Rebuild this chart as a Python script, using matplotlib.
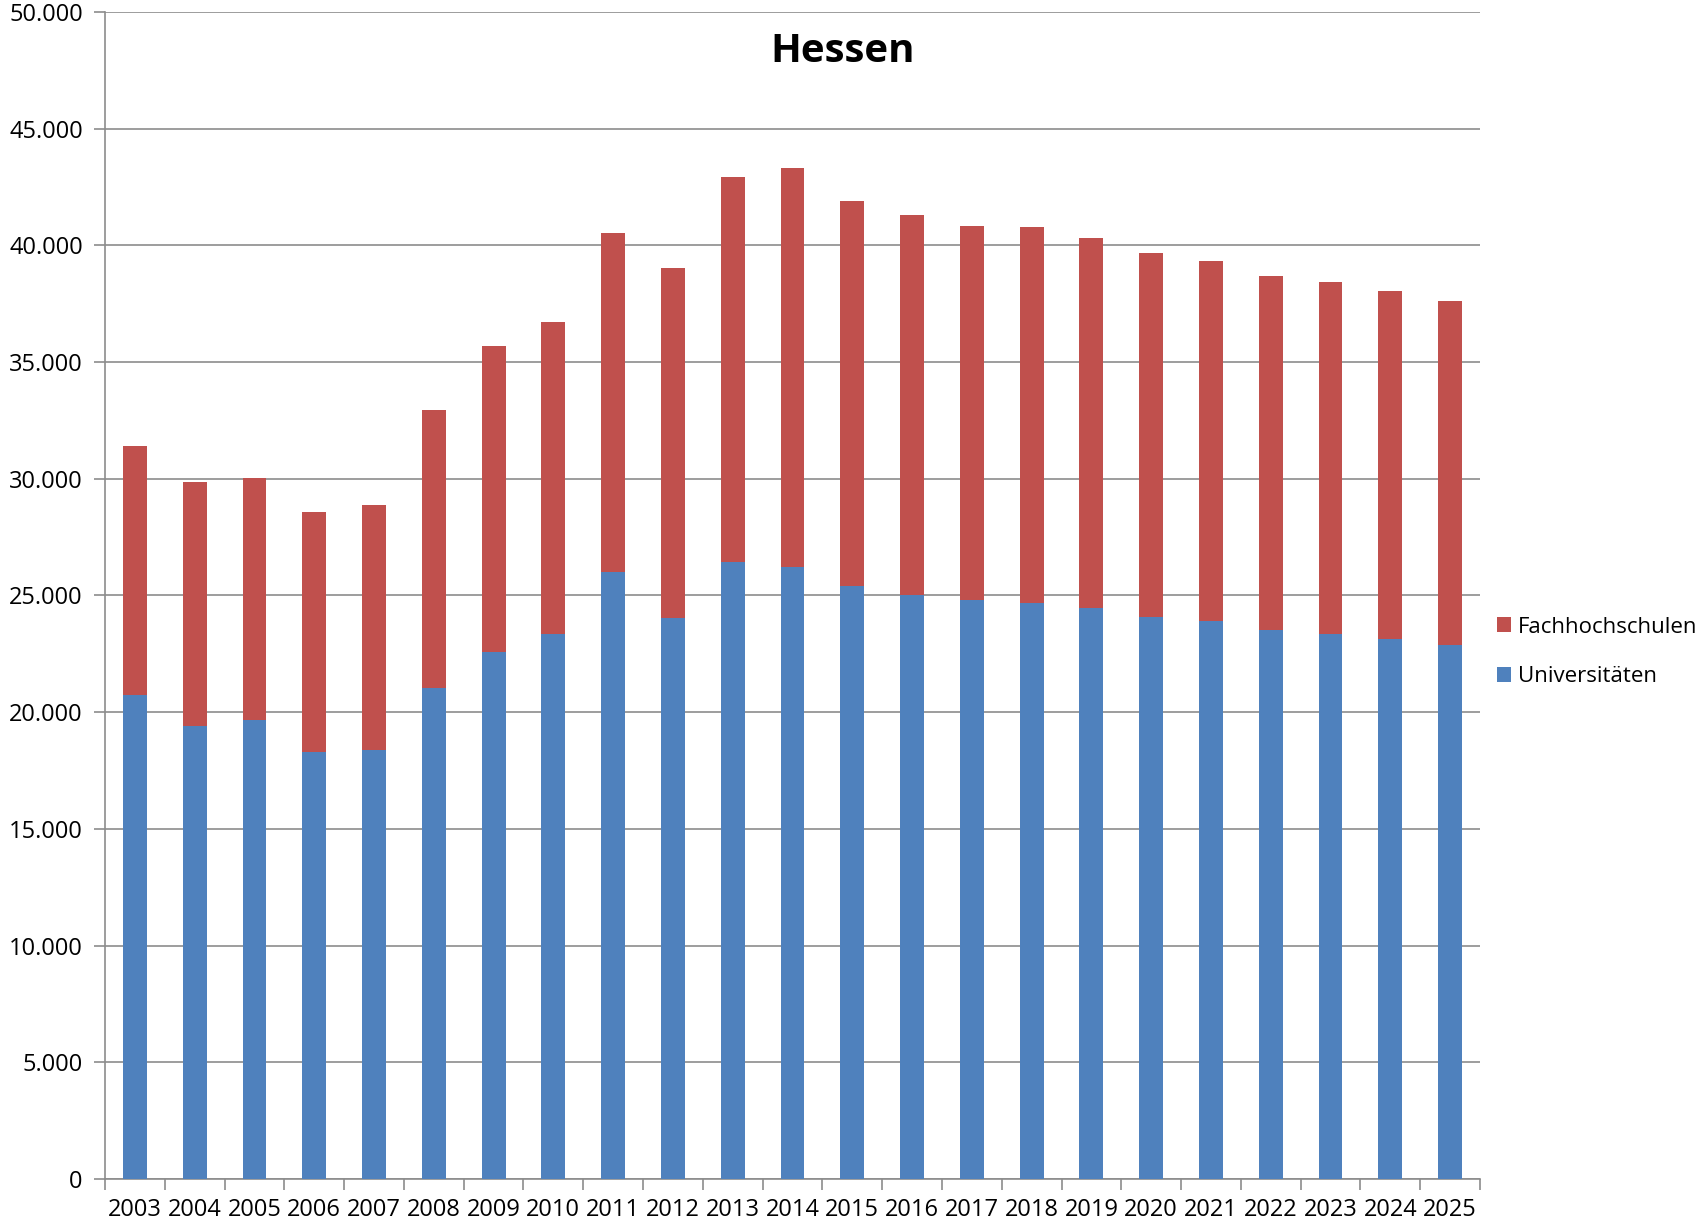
import matplotlib.pyplot as plt
import numpy as np

plt.rcParams['font.family'] = ['Open Sans', 'DejaVu Sans']

# Data
years = [str(y) for y in range(2003, 2026)]
universitaeten = [20750, 19400, 19680, 18280, 18370, 21020, 22600, 23350, 26000, 24050,
                  26420, 26230, 25400, 25020, 24790, 24700, 24470, 24100, 23900, 23540,
                  23350, 23120, 22880]
gesamt = [31400, 29860, 30050, 28560, 28880, 32930, 35680, 36700, 40520, 39020,
          42930, 43300, 41910, 41310, 40840, 40790, 40330, 39680, 39350, 38700,
          38420, 38050, 37630]
fachhochschulen = [g - u for g, u in zip(gesamt, universitaeten)]

fig = plt.figure(figsize=(17.02, 12.24), dpi=100)
ax = fig.add_axes([105 / 1702, 1 - 1179 / 1224, 1375 / 1702, 1167 / 1224])

x = np.arange(len(years))
bar_u = ax.bar(x, universitaeten, width=0.4, color='#4F81BD', zorder=3)
bar_f = ax.bar(x, fachhochschulen, width=0.4, bottom=universitaeten, color='#C0504D', zorder=3)

ax.set_ylim(0, 50000)
ax.set_xlim(-0.5, len(years) - 0.5)
ax.set_yticks(range(0, 50001, 5000))
ax.set_yticklabels(['0' if v == 0 else f'{v:,}'.replace(',', '.') for v in range(0, 50001, 5000)])
ax.yaxis.grid(True, color='#8c8c8c', linewidth=1.2, zorder=0)

# category labels centred, tick marks between categories
ax.set_xticks(x)
ax.set_xticklabels(years)
ax.tick_params(axis='x', length=0, pad=14)
ax.set_xticks(np.arange(-0.5, len(years)), minor=True)
ax.tick_params(axis='x', which='minor', length=8, color='#8c8c8c', width=1.2)
ax.tick_params(axis='y', length=8, color='#8c8c8c', width=1.2, pad=8)
ax.tick_params(labelsize=17)

for side in ['top', 'right']:
    ax.spines[side].set_visible(False)
for side in ['left', 'bottom']:
    ax.spines[side].set_color('#8c8c8c')
    ax.spines[side].set_linewidth(1.2)

fig.text(0.495, 0.958, 'Hessen', ha='center', va='center', fontsize=29, fontweight='bold')

fig.legend([bar_f, bar_u], ['Fachhochschulen', 'Universitäten'], loc='center left',
           bbox_to_anchor=(1497 / 1702, 1 - 652 / 1224), frameon=False, fontsize=16,
           handlelength=0.65, handleheight=0.65, handletextpad=0.3, labelspacing=1.3,
           borderaxespad=0, borderpad=0)

fig.savefig('out.png', dpi=100)
